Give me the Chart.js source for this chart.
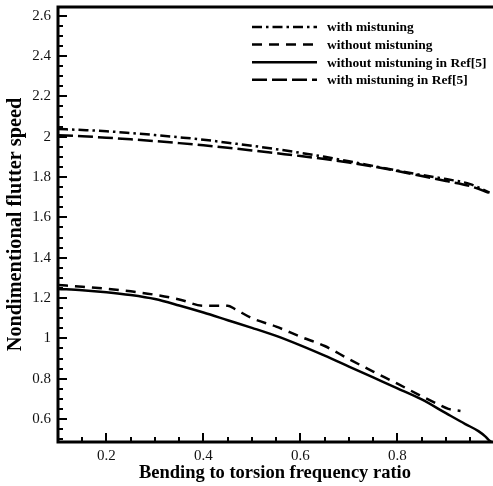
<!DOCTYPE html>
<html>
<head>
<meta charset="UTF-8">
<title>Flutter speed</title>
<style>
  html, body { margin: 0; padding: 0; background: #fff; overflow: hidden; }
  #wrap { width: 493px; height: 486px; }
</style>
</head>
<body>
<div id="wrap"><canvas id="chart"></canvas></div>
<script src="https://cdn.jsdelivr.net/npm/chart.js"></script>
<script>
// frequency ratio samples
const ratioUpper = [0.1, 0.15, 0.2, 0.25, 0.3, 0.35, 0.4, 0.45, 0.5, 0.55, 0.6, 0.65, 0.7, 0.75, 0.8, 0.85, 0.9, 0.95, 0.99];
const withMist = [2.038, 2.033, 2.027, 2.018, 2.008, 1.997, 1.985, 1.970, 1.955, 1.938, 1.920, 1.900, 1.878, 1.855, 1.832, 1.810, 1.790, 1.765, 1.722];
const withMistRef = [2.007, 2.002, 1.995, 1.987, 1.978, 1.968, 1.957, 1.945, 1.932, 1.918, 1.904, 1.889, 1.872, 1.852, 1.830, 1.805, 1.780, 1.755, 1.720];

const ratioNoMist = [0.1, 0.15, 0.2, 0.25, 0.3, 0.35, 0.4, 0.45, 0.465, 0.5, 0.55, 0.6, 0.65, 0.7, 0.75, 0.8, 0.85, 0.885, 0.905, 0.93];
const noMist = [1.265, 1.256, 1.246, 1.233, 1.216, 1.193, 1.162, 1.162, 1.145, 1.100, 1.058, 1.008, 0.962, 0.897, 0.835, 0.775, 0.713, 0.672, 0.650, 0.640];

const ratioNoMistRef = [0.1, 0.15, 0.2, 0.25, 0.3, 0.35, 0.4, 0.45, 0.5, 0.55, 0.6, 0.65, 0.7, 0.75, 0.8, 0.85, 0.9, 0.94, 0.967, 0.981, 0.99, 0.995];
const noMistRef = [1.245, 1.239, 1.229, 1.215, 1.195, 1.163, 1.128, 1.090, 1.052, 1.012, 0.965, 0.914, 0.860, 0.806, 0.752, 0.697, 0.629, 0.575, 0.540, 0.514, 0.492, 0.485];

const xTicks = [0.2, 0.4, 0.6, 0.8];
const yTicks = [0.6, 0.8, 1, 1.2, 1.4, 1.6, 1.8, 2, 2.2, 2.4, 2.6];

const pairs = (xs, ys) => xs.map((x, i) => ({ x: x, y: ys[i] }));

Chart.defaults.font.family = '"Liberation Serif", "Times New Roman", serif';
Chart.defaults.color = '#111';

// frame, inward ticks and the legend box drawn on top of the plot
const framePlugin = {
    id: 'frame',
    afterDraw(chart) {
        const ctx = chart.ctx;
        const a = chart.chartArea;
        const xs = chart.scales.x, ys = chart.scales.y;
        ctx.save();
        ctx.strokeStyle = '#000';
        ctx.lineWidth = 3;
        ctx.beginPath();
        ctx.moveTo(a.right + 5, a.top);
        ctx.lineTo(a.left, a.top);
        ctx.lineTo(a.left, a.bottom);
        ctx.lineTo(a.right + 5, a.bottom);
        ctx.stroke();

        ctx.lineWidth = 2;
        ctx.beginPath();
        for (let v = 0.1; v <= xs.max + 1e-9; v += 0.05) {
            const px = Math.round(xs.getPixelForValue(v));
            const major = Math.abs(v * 5 - Math.round(v * 5)) < 1e-6;
            ctx.moveTo(px, a.bottom);
            ctx.lineTo(px, a.bottom - (major ? 9 : 5));
        }
        for (let v = 0.5; v <= ys.max + 1e-9; v += 0.05) {
            if (v < ys.min) continue;
            const py = Math.round(ys.getPixelForValue(v));
            const major = Math.abs(v * 5 - Math.round(v * 5)) < 1e-6;
            ctx.moveTo(a.left, py);
            ctx.lineTo(a.left + (major ? 9 : 5), py);
        }
        ctx.stroke();

        // legend
        const x0 = a.right - 240, y0 = a.top + 20, rowH = 17.6;
        ctx.font = 'bold 13.5px "Liberation Serif", "Times New Roman", serif';
        ctx.textBaseline = 'middle';
        ctx.fillStyle = '#000';
        chart.data.datasets.forEach((ds, i) => {
            const y = y0 + i * rowH;
            ctx.setLineDash(ds.borderDash || []);
            ctx.lineWidth = ds.borderWidth;
            ctx.beginPath();
            ctx.moveTo(x0, y);
            ctx.lineTo(x0 + 65, y);
            ctx.stroke();
            ctx.setLineDash([]);
            ctx.fillText(ds.label, x0 + 75, y + 1);
        });
        ctx.restore();
    }
};

new Chart(document.getElementById('chart'), {
    type: 'line',
    data: {
        datasets: [
            {
                label: 'with mistuning',
                data: pairs(ratioUpper, withMist),
                borderColor: '#000',
                borderWidth: 2.5,
                borderDash: [10, 4, 2.5, 4],
            },
            {
                label: 'without mistuning',
                data: pairs(ratioNoMist, noMist),
                borderColor: '#000',
                borderWidth: 2.5,
                borderDash: [10, 7],
            },
            {
                label: 'without mistuning in Ref[5]',
                data: pairs(ratioNoMistRef, noMistRef),
                borderColor: '#000',
                borderWidth: 2.5,
            },
            {
                label: 'with mistuning in Ref[5]',
                data: pairs(ratioUpper, withMistRef),
                borderColor: '#000',
                borderWidth: 2.5,
                borderDash: [15, 5],
            },
        ],
    },
    options: {
        responsive: true,
        maintainAspectRatio: false,
        animation: false,
        layout: { padding: { top: 7, right: 1, left: 0, bottom: 0 } },
        elements: {
            point: { radius: 0 },
            line: { tension: 0.3, fill: false, cubicInterpolationMode: 'monotone' },
        },
        plugins: {
            legend: { display: false },
            tooltip: { enabled: false },
        },
        scales: {
            x: {
                type: 'linear',
                min: 0.1,
                max: 0.995,
                afterFit: (s) => { s.height = 44; s.paddingLeft = 0; s.paddingRight = 0; },
                afterBuildTicks: (s) => { s.ticks = xTicks.map((v) => ({ value: v })); },
                grid: { display: false, drawTicks: false },
                border: { display: false },
                ticks: {
                    padding: 5,
                    font: { size: 15 },
                    color: '#111',
                    callback: (v) => String(v),
                },
                title: {
                    display: true,
                    text: 'Bending to torsion frequency ratio',
                    font: { size: 18.5, weight: 'bold' },
                    color: '#000',
                    padding: { top: 0, bottom: 2 },
                },
            },
            y: {
                min: 0.486,
                max: 2.643,
                afterFit: (s) => { s.width = 58; s.paddingTop = 0; s.paddingBottom = 0; },
                afterBuildTicks: (s) => { s.ticks = yTicks.map((v) => ({ value: v })); },
                grid: { display: false, drawTicks: false },
                border: { display: false },
                ticks: {
                    padding: 7,
                    font: { size: 15 },
                    color: '#111',
                    callback: (v) => String(v),
                },
                title: {
                    display: true,
                    text: 'Nondimentional flutter speed',
                    font: { size: 20.3, weight: 'bold' },
                    color: '#000',
                    padding: { top: 4, bottom: 0 },
                },
            },
        },
    },
    plugins: [framePlugin],
});
</script>
</body>
</html>
